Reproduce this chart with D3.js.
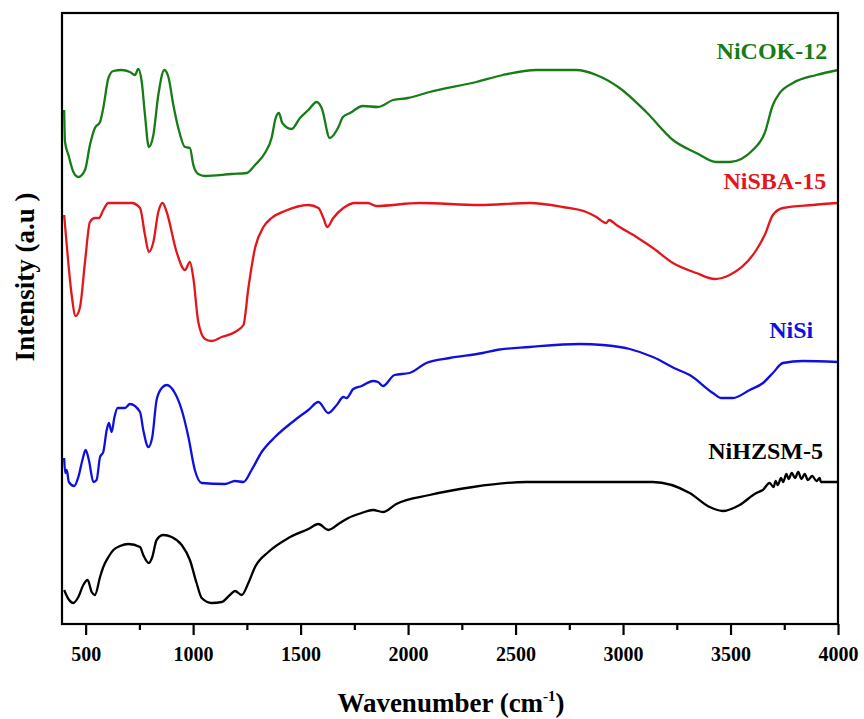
<!DOCTYPE html>
<html>
<head>
<meta charset="utf-8">
<script src="https://cdn.jsdelivr.net/npm/d3@7"></script>
<style>
  html, body { margin: 0; padding: 0; background: #fff; }
  svg { display: block; }
</style>
</head>
<body>
<svg id="chart" width="864" height="719"></svg>
<script>
// ---------------- DATA ----------------
const seriesNames = ["NiCOK-12", "NiSBA-15", "NiSi", "NiHZSM-5"];
const seriesColors = ["#167c16", "#e3161c", "#1010dc", "#000000"];
const xTickValues = [500, 1000, 1500, 2000, 2500, 3000, 3500, 4000];
const xMinorTicks = [750, 1250, 1750, 2250, 2750, 3250, 3750];

// [wavenumber (cm-1), intensity (a.u.)]
const nicok12 = [
  [400,514],[404,482],[420,469],[443,452],[466,447],[497,454],[520,479],[543,496],[567,502],[582,516],
  [606,546],[629,553],[667,554],[706,552],[729,549],[745,555],[761,542],[776,509],[794,477],[815,489],
  [838,529],[866,554],[885,547],[908,519],[931,496],[962,477],[985,476],[1001,459],[1024,450],[1055,448],
  [1179,450],[1249,451],[1288,459],[1334,471],[1365,486],[1384,506],[1399,511],[1415,501],[1458,495],
  [1497,506],[1536,514],[1575,522],[1598,516],[1636,486],[1676,497],[1697,507],[1730,511],[1790,518],
  [1860,517],[1930,524],[1999,526],[2100,532],[2318,542],[2441,549],[2597,554],[2783,554],[2876,549],
  [2984,536],[3108,512],[3232,484],[3341,471],[3434,462],[3496,462],[3604,474],[3659,491],[3697,519],
  [3729,531],[3790,541],[3899,549],[4000,554]
];
const nisba15 = [
  [400,409],[412,379],[435,329],[453,308],[473,316],[497,362],[520,402],[543,406],[562,406],[582,414],
  [606,421],[714,421],[753,416],[776,389],[794,372],[815,382],[838,412],[858,421],[877,412],[923,372],
  [962,354],[985,362],[1001,346],[1024,302],[1055,285],[1086,283],[1133,287],[1195,292],[1234,299],
  [1257,336],[1288,376],[1327,397],[1365,406],[1427,413],[1536,419],[1583,416],[1606,406],[1624,397],
  [1652,406],[1699,416],[1753,421],[1813,421],[1852,418],[2054,421],[2333,419],[2566,421],[2720,417],
  [2829,412],[2876,407],[2922,401],[2935,404],[2969,399],[3062,387],[3139,376],[3232,361],[3341,351],
  [3426,345],[3496,349],[3620,374],[3659,389],[3697,409],[3744,416],[3883,419],[4000,421]
];
const nisi = [
  [400,166],[405,151],[412,154],[422,142],[447,138],[466,147],[485,164],[500,174],[515,164],[536,142],
  [551,144],[567,167],[582,172],[598,194],[608,201],[621,192],[634,207],[649,216],[683,216],[706,220],
  [753,212],[768,194],[792,177],[810,187],[830,224],[854,236],[877,239],[915,231],[947,214],[978,187],
  [1008,154],[1040,141],[1148,140],[1195,143],[1234,142],[1272,154],[1319,172],[1381,187],[1474,204],
  [1536,214],[1583,222],[1629,211],[1668,219],[1699,227],[1714,226],[1745,235],[1784,238],[1837,243],
  [1860,242],[1883,238],[1937,249],[2007,251],[2085,261],[2193,266],[2348,271],[2411,274],[2566,277],
  [2798,280],[2906,279],[3031,275],[3139,267],[3248,255],[3310,249],[3418,231],[3457,226],[3511,226],
  [3589,234],[3651,241],[3697,251],[3744,261],[3837,263],[4000,262]
];
const nihzsm5 = [
  [400,34],[420,25],[443,21],[466,27],[489,39],[509,44],[528,32],[543,29],[567,47],[582,57],
  [606,67],[629,74],[660,78],[699,80],[753,77],[768,69],[794,61],[810,67],[830,84],[861,89],
  [900,87],[947,79],[985,64],[1016,41],[1040,26],[1086,21],[1133,22],[1171,29],[1195,33],[1226,29],
  [1257,41],[1288,57],[1350,72],[1443,86],[1536,95],[1583,100],[1629,94],[1676,100],[1722,106],
  [1784,111],[1837,114],[1883,112],[1945,120],[2100,129],[2302,137],[2550,142],[3139,142],[3310,131],
  [3403,117],[3465,113],[3542,119],[3620,131],[3650,134],[3682,141],[3700,137],[3710,143],[3720,139],
  [3735,146],[3745,142],[3760,150],[3770,145],[3785,151],[3800,146],[3815,152],[3830,145],[3845,150],
  [3860,144],[3880,148],[3900,143],[3915,146],[3920,142],[4000,142]
];
const seriesData = [nicok12, nisba15, nisi, nihzsm5];
// label anchor points [wavenumber at right end, intensity at baseline]
const labelAnchors = [[3950,565],[3945,435],[3885,286],[3930,165]];

// ---------------- LAYOUT ----------------
const svg = d3.select("#chart");
const mLeft = 62, mRight = 838, mTop = 13, mBottom = 624;

const x = d3.scaleLinear().domain([390, 4000]).range([mLeft, mRight]);
const y = d3.scaleLinear().domain([0, 611]).range([mBottom, mTop]);

const fontFam = "'Liberation Serif', 'Times New Roman', serif";

// curves
const line = d3.line()
  .x(d => x(d[0]))
  .y(d => y(d[1]))
  .curve(d3.curveMonotoneX);

svg.append("g")
  .selectAll("path")
  .data(seriesData)
  .join("path")
  .attr("d", line)
  .attr("fill", "none")
  .attr("stroke", (d, i) => seriesColors[i])
  .attr("stroke-width", 2.3)
  .attr("stroke-linejoin", "round");

// frame
svg.append("rect")
  .attr("x", mLeft).attr("y", mTop)
  .attr("width", mRight - mLeft).attr("height", mBottom - mTop)
  .attr("fill", "none").attr("stroke", "#000").attr("stroke-width", 2.2);

// bottom axis major
const axMajor = svg.append("g")
  .attr("transform", `translate(0,${mBottom})`)
  .call(d3.axisBottom(x).tickValues(xTickValues).tickSize(11).tickPadding(12).tickFormat(d3.format("d")));
axMajor.select(".domain").remove();
axMajor.selectAll(".tick line").attr("stroke", "#000").attr("stroke-width", 2.2);
axMajor.selectAll(".tick text")
  .attr("fill", "#000")
  .style("font-family", fontFam)
  .style("font-weight", "bold")
  .style("font-size", "20px");

// bottom axis minor
const axMinor = svg.append("g")
  .attr("transform", `translate(0,${mBottom})`)
  .call(d3.axisBottom(x).tickValues(xMinorTicks).tickSize(6).tickFormat(""));
axMinor.select(".domain").remove();
axMinor.selectAll(".tick line").attr("stroke", "#000").attr("stroke-width", 2.2);

// series labels
svg.append("g")
  .selectAll("text")
  .data(seriesNames)
  .join("text")
  .attr("x", (d, i) => x(labelAnchors[i][0]))
  .attr("y", (d, i) => y(labelAnchors[i][1]))
  .attr("text-anchor", "end")
  .attr("fill", (d, i) => seriesColors[i])
  .style("font-family", fontFam)
  .style("font-weight", "bold")
  .style("font-size", "24px")
  .text(d => d);

// x axis title
const xt = svg.append("text")
  .attr("x", 451).attr("y", 712)
  .attr("text-anchor", "middle")
  .attr("fill", "#000")
  .style("font-family", fontFam)
  .style("font-weight", "bold")
  .style("font-size", "27px");
xt.append("tspan").text("Wavenumber (cm");
xt.append("tspan").attr("dy", -11).style("font-size", "15px").text("-1");
xt.append("tspan").attr("dy", 11).text(")");

// y axis title
svg.append("text")
  .attr("transform", "translate(34,277) rotate(-90)")
  .attr("text-anchor", "middle")
  .attr("fill", "#000")
  .style("font-family", fontFam)
  .style("font-weight", "bold")
  .style("font-size", "27px")
  .text("Intensity (a.u )");
</script>
</body>
</html>
